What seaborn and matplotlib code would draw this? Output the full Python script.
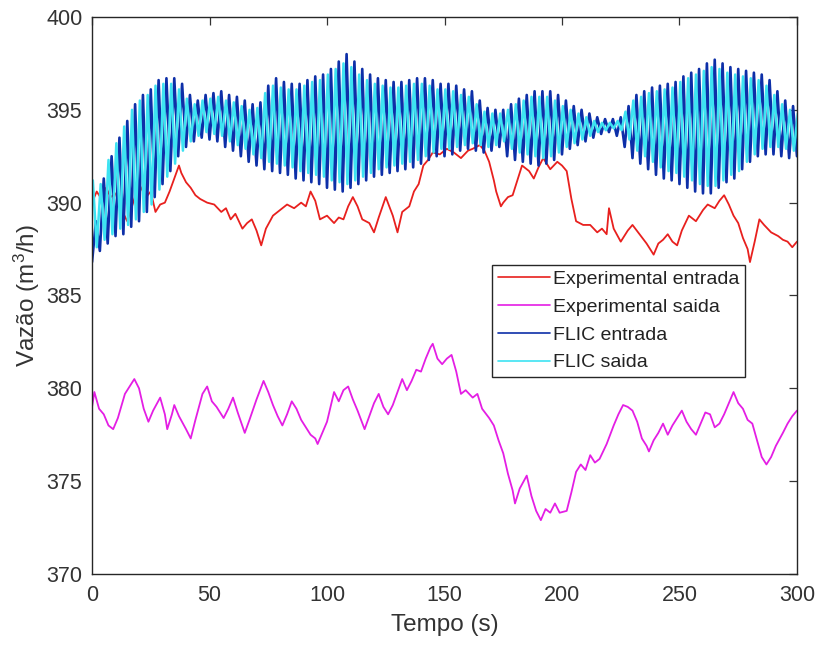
import numpy as np
import pandas as pd
import matplotlib
matplotlib.use("Agg")
import matplotlib.pyplot as plt
from matplotlib.lines import Line2D
import seaborn as sns

# ---------------- data ----------------
exp_in_t = [0, 2, 4, 6, 8, 10, 12, 13, 15, 17, 20, 23, 25, 27, 29, 31, 33, 35, 37, 38,
            40, 42, 44, 46, 49, 52, 55, 57, 59, 61, 64, 66, 68, 70, 72, 74, 77, 80, 83, 86,
            89, 91, 93, 95, 97, 100, 103, 105, 107, 109, 111, 113, 115, 118, 120, 122, 125, 128, 130, 132,
            135, 137, 139, 141, 143, 145, 148, 151, 154, 157, 160, 162, 165, 167, 169, 171, 172, 174, 175, 177,
            179, 181, 183, 186, 188, 190, 192, 195, 198, 200, 202, 204, 206, 209, 212, 215, 217, 219, 220, 222,
            225, 228, 230, 233, 236, 239, 241, 243, 245, 247, 249, 251, 254, 257, 260, 262, 265, 267, 269, 271,
            273, 275, 277, 279, 280, 282, 284, 286, 289, 292, 294, 296, 298, 300]
exp_in_v = [390.0, 390.6, 390.2, 390.8, 390.3, 390.5, 389.8, 389.5, 389.0, 389.8, 391.0, 390.3, 390.6, 389.5, 389.9, 390.0, 390.6, 391.3, 392.0, 391.6,
            391.1, 390.8, 390.4, 390.2, 390.0, 389.9, 389.5, 389.7, 389.1, 389.4, 388.6, 388.9, 389.1, 388.5, 387.7, 388.6, 389.3, 389.6, 389.9, 389.7,
            390.0, 389.8, 390.6, 390.1, 389.1, 389.3, 388.9, 389.2, 389.1, 389.8, 390.3, 389.8, 389.1, 388.9, 388.4, 389.2, 390.3, 389.3, 388.4, 389.5,
            389.8, 390.6, 391.0, 392.0, 392.3, 392.7, 392.6, 392.9, 392.7, 392.4, 392.8, 392.9, 393.1, 392.8, 392.2, 391.2, 390.6, 389.8, 390.0, 390.3,
            390.4, 391.2, 392.0, 391.7, 391.3, 391.9, 392.4, 391.8, 392.2, 392.0, 391.7, 390.2, 389.0, 388.8, 388.8, 388.4, 388.6, 388.3, 389.7, 388.6,
            387.9, 388.5, 388.8, 388.3, 387.8, 387.2, 387.8, 388.0, 388.3, 387.9, 387.7, 388.5, 389.3, 389.0, 389.6, 389.9, 389.7, 390.1, 390.4, 389.9,
            389.3, 388.9, 388.1, 387.5, 386.8, 387.9, 389.1, 388.8, 388.4, 388.2, 388.0, 387.9, 387.6, 387.9]

exp_out_t = [0, 1, 3, 5, 7, 9, 11, 14, 16, 18, 20, 22, 24, 26, 29, 31, 32, 34, 35, 37,
             40, 42, 44, 47, 49, 51, 53, 56, 58, 60, 62, 65, 67, 70, 73, 75, 77, 79, 81, 83,
             85, 87, 89, 91, 93, 95, 96, 98, 100, 103, 105, 107, 109, 111, 113, 116, 118, 120, 122, 124,
             126, 128, 130, 132, 134, 136, 138, 140, 142, 144, 145, 147, 149, 151, 153, 155, 157, 159, 162, 164,
             166, 169, 171, 173, 175, 177, 179, 180, 182, 185, 187, 189, 191, 193, 195, 197, 199, 202, 204, 206,
             208, 210, 212, 214, 216, 219, 222, 224, 226, 228, 230, 232, 234, 236, 237, 239, 241, 243, 245, 247,
             249, 251, 253, 255, 257, 259, 261, 263, 265, 267, 269, 271, 273, 275, 277, 279, 281, 283, 285, 287,
             289, 291, 294, 296, 298, 300]
exp_out_v = [379.0, 379.8, 378.9, 378.6, 378.0, 377.8, 378.4, 379.7, 380.1, 380.5, 380.0, 378.9, 378.2, 378.8, 379.5, 378.6, 377.8, 378.6, 379.1, 378.5,
             377.8, 377.3, 378.3, 379.7, 380.1, 379.3, 379.0, 378.4, 378.9, 379.5, 378.7, 377.6, 378.3, 379.4, 380.4, 379.8, 379.1, 378.5, 378.0, 378.6,
             379.3, 378.9, 378.3, 377.9, 377.5, 377.3, 377.0, 377.6, 378.2, 379.8, 379.3, 379.9, 380.1, 379.4, 378.8, 377.8, 378.5, 379.2, 379.7, 379.0,
             378.6, 379.1, 379.8, 380.5, 379.9, 380.4, 381.0, 380.9, 381.6, 382.2, 382.4, 381.6, 381.3, 381.6, 381.8, 380.9, 379.7, 379.9, 379.5, 379.7,
             378.9, 378.4, 378.0, 377.2, 376.5, 375.4, 374.5, 373.8, 374.6, 375.3, 374.2, 373.4, 372.9, 373.5, 373.3, 373.8, 373.3, 373.4, 374.4, 375.5,
             375.9, 375.6, 376.4, 376.0, 376.2, 377.0, 378.0, 378.6, 379.1, 379.0, 378.8, 378.2, 377.3, 376.9, 376.6, 377.2, 377.6, 378.1, 377.5, 378.0,
             378.4, 378.8, 378.2, 377.8, 377.5, 378.1, 378.7, 378.6, 377.9, 378.1, 378.6, 379.2, 379.8, 379.2, 378.9, 378.3, 378.1, 377.2, 376.3, 375.9,
             376.3, 376.9, 377.6, 378.1, 378.5, 378.8]

flic_period = 10.0 / 3.0  # seconds per oscillation (about 90 cycles in 300 s)

flic_in_peaks = [389.0, 391.3, 392.5, 393.5, 394.4, 395.3, 395.8, 396.1, 396.6, 396.7,
                 396.7, 396.4, 395.8, 395.5, 395.8, 395.9, 396.0, 395.8, 395.7, 395.5,
                 395.3, 395.4, 396.3, 396.7, 396.5, 396.4, 396.4, 396.6, 396.8, 396.9,
                 397.2, 397.6, 398.0, 397.6, 397.2, 396.9, 396.7, 396.6, 396.5, 396.5,
                 396.6, 396.7, 396.7, 396.6, 396.4, 396.4, 396.3, 396.1, 396.0, 395.5,
                 395.1, 395.0, 395.0, 395.3, 395.6, 395.8, 396.0, 396.0, 396.0, 395.8,
                 395.5, 395.2, 395.0, 394.8, 394.6, 394.5, 394.5, 394.6, 395.2, 395.8,
                 396.0, 396.2, 396.3, 396.4, 396.5, 396.8, 397.0, 397.2, 397.5, 397.7,
                 397.5, 397.3, 397.2, 397.1, 397.0, 396.9, 396.6, 396.0, 395.5, 395.2, 395.0]
flic_in_troughs = [386.8, 387.4, 387.8, 388.2, 388.3, 388.7, 389.0, 389.5, 390.3, 391.0,
                   391.7, 392.5, 393.0, 393.3, 393.5, 393.4, 393.3, 393.0, 392.8, 392.5,
                   392.2, 392.0, 391.8, 391.7, 391.6, 391.5, 391.3, 391.2, 391.1, 391.0,
                   390.8, 390.7, 390.6, 390.8, 391.0, 391.2, 391.4, 391.5, 391.6, 391.7,
                   391.8, 391.9, 392.1, 392.3, 392.5, 392.5, 392.6, 392.8, 392.9, 392.8,
                   392.7, 392.8, 393.0, 392.5, 392.3, 392.2, 392.1, 392.0, 392.1, 392.3,
                   392.6, 392.9, 393.1, 393.3, 393.5, 393.7, 393.8, 393.6, 393.0, 392.4,
                   392.1, 391.8, 391.5, 391.3, 391.2, 391.0, 390.8, 390.6, 390.5, 390.5,
                   390.8, 391.1, 391.3, 391.8, 392.2, 392.5, 392.6, 392.6, 392.5, 392.4, 392.5]

flic_out_peaks = [391.2, 391.0, 392.3, 393.2, 394.1, 395.0, 395.5, 395.8, 396.3, 396.4,
                  396.4, 396.1, 395.6, 395.3, 395.5, 395.6, 395.7, 395.5, 395.4, 395.2,
                  395.0, 395.1, 395.9, 396.3, 396.2, 396.1, 396.1, 396.3, 396.5, 396.6,
                  396.9, 397.2, 397.5, 397.3, 396.9, 396.6, 396.4, 396.3, 396.2, 396.2,
                  396.3, 396.4, 396.4, 396.3, 396.1, 396.1, 396.0, 395.8, 395.7, 395.3,
                  394.9, 394.8, 394.8, 395.0, 395.3, 395.5, 395.7, 395.7, 395.7, 395.5,
                  395.2, 395.0, 394.8, 394.6, 394.4, 394.3, 394.3, 394.4, 394.9, 395.5,
                  395.7, 395.9, 396.0, 396.1, 396.2, 396.5, 396.7, 396.9, 397.1, 397.3,
                  397.2, 397.0, 396.9, 396.8, 396.7, 396.6, 396.3, 395.8, 395.3, 395.0, 394.8]
flic_out_troughs = [387.6, 388.0, 388.3, 388.6, 388.8, 389.1, 389.5, 389.9, 390.7, 391.4,
                    392.1, 392.8, 393.3, 393.6, 393.8, 393.7, 393.6, 393.3, 393.1, 392.9,
                    392.6, 392.4, 392.2, 392.1, 392.0, 391.9, 391.7, 391.6, 391.5, 391.4,
                    391.2, 391.1, 391.0, 391.2, 391.4, 391.6, 391.8, 391.9, 392.0, 392.1,
                    392.2, 392.3, 392.5, 392.7, 392.9, 392.9, 393.0, 393.1, 393.2, 393.1,
                    393.0, 393.1, 393.3, 392.9, 392.7, 392.6, 392.5, 392.4, 392.5, 392.7,
                    393.0, 393.2, 393.4, 393.6, 393.8, 393.9, 394.0, 393.9, 393.4, 392.8,
                    392.5, 392.2, 391.9, 391.7, 391.6, 391.4, 391.2, 391.0, 390.9, 390.9,
                    391.2, 391.5, 391.7, 392.2, 392.6, 392.9, 393.0, 393.0, 392.9, 392.8, 392.8]

labels = ["Experimental entrada", "Experimental saida", "FLIC entrada", "FLIC saida"]
colors = ["#e8201e", "#e41ee4", "#0d2fa8", "#3de3f2"]

x_ticks = [0, 50, 100, 150, 200, 250, 300]
y_ticks = [370, 375, 380, 385, 390, 395, 400]


def zigzag(first, second, offset):
    """Alternate the listed extremes: 'first' at the cycle start, 'second' half a cycle later."""
    t, v = [], []
    for k, (a, b) in enumerate(zip(first, second)):
        t += [k * flic_period + offset, k * flic_period + flic_period / 2 + offset]
        v += [a, b]
    return np.array(t), np.array(v)


fin_t, fin_v = zigzag(flic_in_troughs, flic_in_peaks, 0.0)
fout_t, fout_v = zigzag(flic_out_peaks, flic_out_troughs, 0.35)

# ---------------- figure ----------------
sns.set_theme(style="white")
plt.rcParams["font.family"] = ["Liberation Sans", "DejaVu Sans"]
plt.rcParams["mathtext.fontset"] = "custom"
plt.rcParams["mathtext.rm"] = "Liberation Sans"
plt.rcParams["mathtext.it"] = "Liberation Sans"

fig = plt.figure(figsize=(8.18, 6.48), dpi=100)
ax = fig.add_axes([0.1125, 0.1142, 0.8618, 0.8596])

sns.lineplot(x=exp_in_t, y=exp_in_v, ax=ax, color=colors[0], linewidth=1.3,
             estimator=None, sort=False)
sns.lineplot(x=exp_out_t, y=exp_out_v, ax=ax, color=colors[1], linewidth=1.3,
             estimator=None, sort=False)
sns.lineplot(x=fin_t, y=fin_v, ax=ax, color=colors[2], linewidth=1.9,
             estimator=None, sort=False)
sns.lineplot(x=fout_t, y=fout_v, ax=ax, color=colors[3], linewidth=1.8,
             estimator=None, sort=False)

ax.set_xlim(0, 300)
ax.set_ylim(370, 400)
ax.set_xticks(x_ticks)
ax.set_yticks(y_ticks)
ax.set_xticklabels([str(v) for v in x_ticks])
ax.set_yticklabels([str(v) for v in y_ticks])

text_col = "#333333"
ax.tick_params(axis="both", which="both", direction="in", length=6, width=0.9,
               top=True, right=True, labelsize=15.5, colors=text_col, pad=7)
ax.tick_params(axis="x", pad=8)
for s in ax.spines.values():
    s.set_visible(True)
    s.set_color("#262626")
    s.set_linewidth(1.0)

ax.set_xlabel("Tempo (s)", fontsize=17.5, color=text_col, labelpad=6)
ax.set_ylabel("Vazão (m$^{3}$/h)", fontsize=17.5, color=text_col, labelpad=3)

handles = [Line2D([0], [0], color=c, lw=1.2) for c in colors]
leg = ax.legend(handles, labels, loc="upper left", bbox_to_anchor=(0.567, 0.555),
                fontsize=14, frameon=True, fancybox=False, framealpha=1,
                edgecolor="#262626", handlelength=2.7, handletextpad=0.15,
                labelspacing=0.52, borderpad=0.3, borderaxespad=0)
leg.get_frame().set_linewidth(1.0)
for t in leg.get_texts():
    t.set_color("#222222")

fig.savefig("out.png", dpi=100)
